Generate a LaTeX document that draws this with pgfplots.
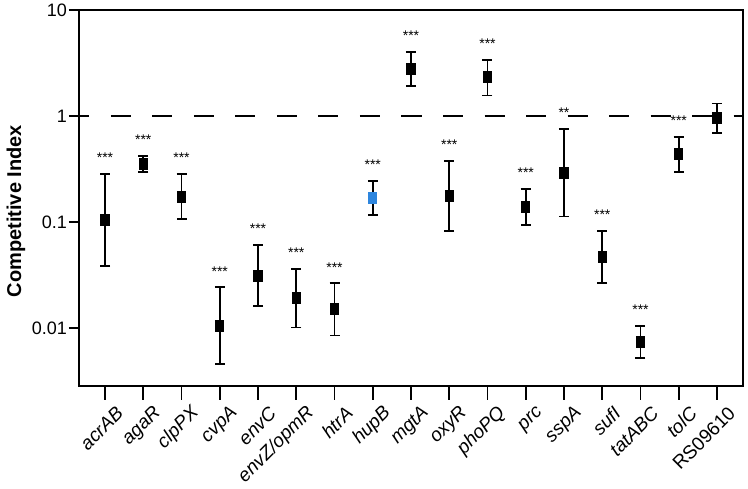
\documentclass[border=0pt]{standalone}
\usepackage{pgfplots}
\usepackage{pgfplotstable}
\pgfplotsset{compat=1.18}
\usepackage{fontspec}
\setmainfont{Liberation Sans}
\definecolor{hupblue}{RGB}{46,134,222}

\pgfplotstableread{
x y lo hi
0 0.104 0.0385 0.284
1 0.35 0.294 0.42
2 0.173 0.107 0.284
3 0.0105 0.0046 0.0242
4 0.0311 0.0161 0.061
5 0.0192 0.0101 0.036
6 0.0150 0.0085 0.0264
8 2.77 1.93 4.02
9 0.176 0.082 0.376
10 2.32 1.56 3.40
11 0.139 0.094 0.205
12 0.292 0.113 0.754
13 0.0465 0.0267 0.0828
14 0.00738 0.0052 0.0105
15 0.435 0.299 0.634
16 0.95 0.686 1.31
}\blackdata

\pgfplotstableread{
x y lo hi
7 0.169 0.117 0.244
}\bluedata

\pgfplotstableread{
x hi star
0 0.284 ***
1 0.42 ***
2 0.284 ***
3 0.0242 ***
4 0.061 ***
5 0.036 ***
6 0.0264 ***
7 0.244 ***
8 4.02 ***
9 0.376 ***
10 3.40 ***
11 0.205 ***
12 0.754 **
13 0.0828 ***
14 0.0105 ***
15 0.634 ***
}\stardata

\begin{document}
\begin{tikzpicture}
\begin{axis}[
  scale only axis,
  width=664pt, height=376pt,
  ymode=log,
  xmin=-0.68, xmax=16.68,
  ymin=0.00284, ymax=10,
  ytick={0.01,0.1,1,10},
  yticklabels={0.01,0.1,1,10},
  minor y tick num=0,
  yminorticks=false,
  xtick={0,...,16},
  xticklabels={\textit{acrAB},\textit{agaR},\textit{clpPX},\textit{cvpA},\textit{envC},\textit{envZ/opmR},\textit{htrA},\textit{hupB},\textit{mgtA},\textit{oxyR},\textit{phoPQ},\textit{prc},\textit{sspA},\textit{sufI},\textit{tatABC},\textit{tolC},RS09610},
  xtick pos=bottom, ytick pos=left,
  tick align=outside,
  major tick length=10pt,
  xtick style={/pgfplots/major tick length=14pt},
  tick style={line width=1.6pt, black},
  axis line style={line width=1.6pt},
  yticklabel style={font=\fontsize{18}{18}\selectfont, inner sep=2pt},
  xticklabel style={font=\fontsize{19}{19}\selectfont, xshift=15pt, yshift=-14pt, rotate=45, anchor=east, inner sep=0pt},
  /pgf/number format/assume math mode=true,
  ylabel={\textbf{Competitive Index}},
  every axis y label/.style={at={([xshift=-63pt]axis description cs:0,0.465)}, rotate=90, anchor=center, font=\fontsize{20}{20}\selectfont},
  clip=false,
]
\addplot[black, line width=1.8pt, dash pattern=on 20pt off 21.5pt, dash phase=9.5pt] coordinates {(-0.68,1) (16.68,1)};

\addplot[only marks, mark=square*, mark size=5.6pt, mark options={xscale=0.75, fill=black, draw=black, line width=0pt},
  error bars/.cd, y dir=both, y explicit,
  error bar style={line width=1.8pt, black},
  error mark options={rotate=90, line width=1.8pt, mark size=5pt, black}]
  table[x=x, y=y, y error plus expr=\thisrow{hi}-\thisrow{y}, y error minus expr=\thisrow{y}-\thisrow{lo}] {\blackdata};

\addplot[only marks, mark=square*, mark size=5.6pt, mark options={xscale=0.75, fill=hupblue, draw=hupblue, line width=0pt},
  error bars/.cd, y dir=both, y explicit,
  error bar style={line width=1.8pt, black},
  error mark options={rotate=90, line width=1.8pt, mark size=5pt, black}]
  table[x=x, y=y, y error plus expr=\thisrow{hi}-\thisrow{y}, y error minus expr=\thisrow{y}-\thisrow{lo}] {\bluedata};

\addplot[only marks, mark=none, point meta=explicit symbolic,
  nodes near coords,
  nodes near coords style={anchor=center, yshift=16pt, font=\fontsize{14}{14}\selectfont, inner sep=0pt}]
  table[x=x, y=hi, meta=star] {\stardata};
\end{axis}
\pgfresetboundingbox
\path (-79pt,-102pt) rectangle (669pt,386pt);
\end{tikzpicture}
\end{document}
